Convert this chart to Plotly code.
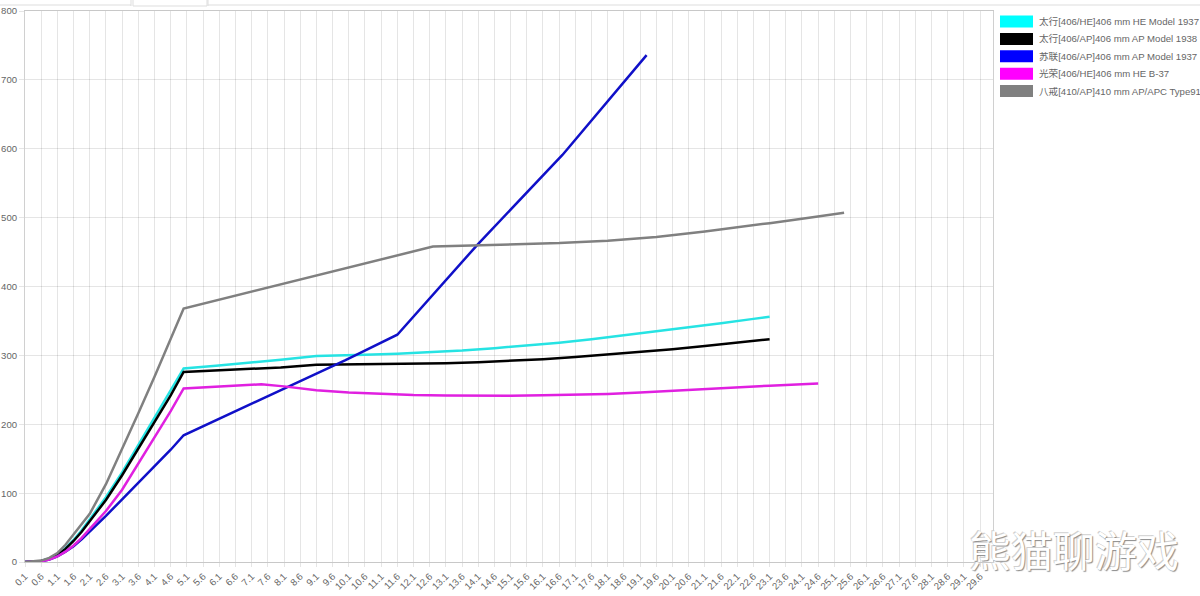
import plotly.graph_objects as go

# ---------------- data ----------------
X_TICK_LABELS = ["0.1", "0.6", "1.1", "1.6", "2.1", "2.6", "3.1", "3.6", "4.1", "4.6",
                 "5.1", "5.6", "6.1", "6.6", "7.1", "7.6", "8.1", "8.6", "9.1", "9.6",
                 "10.1", "10.6", "11.1", "11.6", "12.1", "12.6", "13.1", "13.6", "14.1", "14.6",
                 "15.1", "15.6", "16.1", "16.6", "17.1", "17.6", "18.1", "18.6", "19.1", "19.6",
                 "20.1", "20.6", "21.1", "21.6", "22.1", "22.6", "23.1", "23.6", "24.1", "24.6",
                 "25.1", "25.6", "26.1", "26.6", "27.1", "27.6", "28.1", "28.6", "29.1", "29.6"]
X_RANGE = [0.1, 30.0]
Y_TICKS = [0, 100, 200, 300, 400, 500, 600, 700, 800]

SERIES_NAMES = ["太行[406/HE]406 mm HE Model 1937",
                "太行[406/AP]406 mm AP Model 1938",
                "苏联[406/AP]406 mm AP Model 1937",
                "光荣[406/HE]406 mm HE B-37",
                "八戒[410/AP]410 mm AP/APC Type91"]

taihang_he_x = [0.1, 0.6, 0.85, 1.1, 1.35, 1.6, 1.85, 2.1, 2.6, 3.1, 3.6, 4.1, 4.6, 5.0,
                6.0, 7.0, 8.0, 9.1, 9.6, 10.6, 11.6, 12.6, 13.6, 14.6, 15.6, 16.6, 17.6,
                18.6, 19.6, 20.6, 21.6, 22.6, 23.1]
taihang_he_y = [0, 1.5, 5, 11, 20, 32, 46, 62, 94, 130, 170, 210, 248, 281,
                285, 289, 293.5, 299, 300, 301, 302.5, 304.5, 307, 310.5, 314, 318.5, 323.5,
                329, 334.5, 340, 346.5, 353, 356]

taihang_ap_x = [0.1, 0.6, 0.85, 1.1, 1.35, 1.6, 1.85, 2.1, 2.6, 3.1, 3.6, 4.1, 4.6, 5.0,
                6.0, 7.0, 8.0, 9.1, 10.1, 11.1, 12.1, 13.1, 14.1, 15.1, 16.1, 17.1, 18.1,
                19.1, 20.1, 21.1, 22.1, 23.1]
taihang_ap_y = [0, 1.5, 4.5, 10, 19, 30.5, 44, 59, 90, 126, 165, 204, 242, 276,
                278, 280, 282.5, 286.5, 287, 287, 287.5, 288.5, 290, 292, 294.5, 297.5, 301,
                305, 309, 313.5, 318.5, 323.5]

soviet_ap_x = [0.1, 0.6, 0.85, 1.1, 1.35, 1.6, 1.85, 2.1, 2.6, 3.1, 3.6, 4.1, 4.6, 5.0,
               7.5, 10.0, 11.6, 14.1, 16.7, 19.3]
soviet_ap_y = [0, 1, 3.5, 8, 15, 23, 33, 44, 67, 91, 115, 139, 163, 184,
               238, 293, 330, 462, 591, 736]

glory_he_x = [0.1, 0.6, 0.85, 1.1, 1.35, 1.6, 1.85, 2.1, 2.6, 3.1, 3.6, 4.1, 4.6, 5.0,
              7.4, 8.1, 9.1, 10.1, 11.1, 12.1, 13.1, 14.1, 15.1, 16.1, 17.1, 18.1, 19.1,
              20.1, 21.1, 22.1, 23.1, 24.6]
glory_he_y = [0, 1, 3.5, 8, 15, 24, 35, 48, 74, 105, 143, 181, 219, 252,
              258, 255, 249.5, 246, 244, 242.5, 241.8, 241.5, 241.5, 242, 242.8, 244, 246,
              248.5, 251, 254, 256, 259]

bajie_ap_x = [0.1, 0.6, 0.85, 1.1, 1.35, 1.6, 1.85, 2.1, 2.6, 3.1, 3.6, 4.1, 4.6, 5.0,
              12.7, 13.6, 15.1, 16.6, 18.1, 19.6, 21.1, 22.1, 23.1, 24.1, 25.4]
bajie_ap_y = [0, 2, 6, 13, 25, 40, 55, 70, 113, 164, 216, 269, 324, 368,
              458, 459, 460.5, 463, 466.5, 472, 480, 485.5, 492, 498.5, 507]

# ---------------- styling ----------------
LINE_COLORS = ["#26e3e3", "#000000", "#1010c8", "#e020e0", "#808080"]
LEGEND_COLORS = ["#00ffff", "#000000", "#0000ff", "#ff00ff", "#808080"]
FONT = "Liberation Sans, Arial, 'Noto Sans CJK SC', sans-serif"
TEXT_COLOR = "#666666"
GRID = "rgba(0,0,0,0.1)"

W, H = 1200, 596
ML, MR, MT, MB = 25, 207, 11, 34
PW, PH = W - ML - MR, H - MT - MB


def px_x(px):
    return (px - ML) / PW


def px_y(py):
    return (H - MB - py) / PH


fig = go.Figure()
series = [(taihang_he_x, taihang_he_y), (taihang_ap_x, taihang_ap_y),
          (soviet_ap_x, soviet_ap_y), (glory_he_x, glory_he_y),
          (bajie_ap_x, bajie_ap_y)]
for (xs, ys), name, col in zip(series, SERIES_NAMES, LINE_COLORS):
    fig.add_trace(go.Scatter(x=xs, y=ys, name=name, mode="lines",
                             line=dict(color=col, width=2.5),
                             showlegend=False))

shapes = []
annotations = []
# legend (boxes + labels) to the right of the plot area
for i, (name, col) in enumerate(zip(SERIES_NAMES, LEGEND_COLORS)):
    cy = 21.5 + i * 17.4
    shapes.append(dict(type="rect", xref="paper", yref="paper",
                       x0=px_x(1000), x1=px_x(1033), y0=px_y(cy + 6), y1=px_y(cy - 6),
                       fillcolor=col, line=dict(width=0)))
    annotations.append(dict(text=name, xref="paper", yref="paper",
                            x=px_x(1037), y=px_y(cy), xanchor="left", yanchor="middle",
                            showarrow=False,
                            font=dict(family=FONT, size=9.6, color=TEXT_COLOR)))

# top tab-strip remnants
for x0, x1, y in [(0, 131, 5), (133, 207, 6), (208, 1200, 5)]:
    shapes.append(dict(type="line", xref="paper", yref="paper",
                       x0=px_x(x0), x1=px_x(x1), y0=px_y(y), y1=px_y(y),
                       line=dict(color="#dddddd", width=1)))
for x in [131, 133, 207, 208]:
    shapes.append(dict(type="line", xref="paper", yref="paper",
                       x0=px_x(x), x1=px_x(x), y0=px_y(0), y1=px_y(6),
                       line=dict(color="#dddddd", width=1)))

# watermark
annotations.append(dict(text="熊猫聊游戏", xref="paper", yref="paper",
                        x=px_x(1074), y=px_y(548), xanchor="center", yanchor="middle",
                        showarrow=False,
                        font=dict(family="Noto Sans CJK SC", size=42, color="#ffffff",
                                  shadow="1px 1px 1px #8a8a8a, -1px -1px 0px #d0d0d0")))

fig.update_layout(
    width=W, height=H,
    margin=dict(l=ML, r=MR, t=MT, b=MB, pad=0),
    paper_bgcolor="white", plot_bgcolor="white",
    font=dict(family=FONT, color=TEXT_COLOR, size=9.6),
    shapes=shapes, annotations=annotations,
    showlegend=False,
    xaxis=dict(range=X_RANGE, tickmode="array",
               tickvals=[float(t) for t in X_TICK_LABELS], ticktext=X_TICK_LABELS,
               tickangle=-45, showgrid=True, gridcolor=GRID, gridwidth=1,
               zeroline=False, showline=True, linecolor="#c8c8c8", mirror=True,
               ticks="outside", ticklen=4, tickcolor=GRID,
               tickfont=dict(size=9.6, color=TEXT_COLOR), automargin=False),
    yaxis=dict(range=[0, 800], tickmode="array", tickvals=Y_TICKS,
               showgrid=True, gridcolor=GRID, gridwidth=1,
               zeroline=False, showline=True, linecolor="#d0d0d0", mirror=True,
               ticks="outside", ticklen=5, tickcolor=GRID,
               tickfont=dict(size=9.6, color=TEXT_COLOR), automargin=False),
)

fig.write_html("out.html", config={"displayModeBar": False},
               post_script="document.body.style.margin='0';")
